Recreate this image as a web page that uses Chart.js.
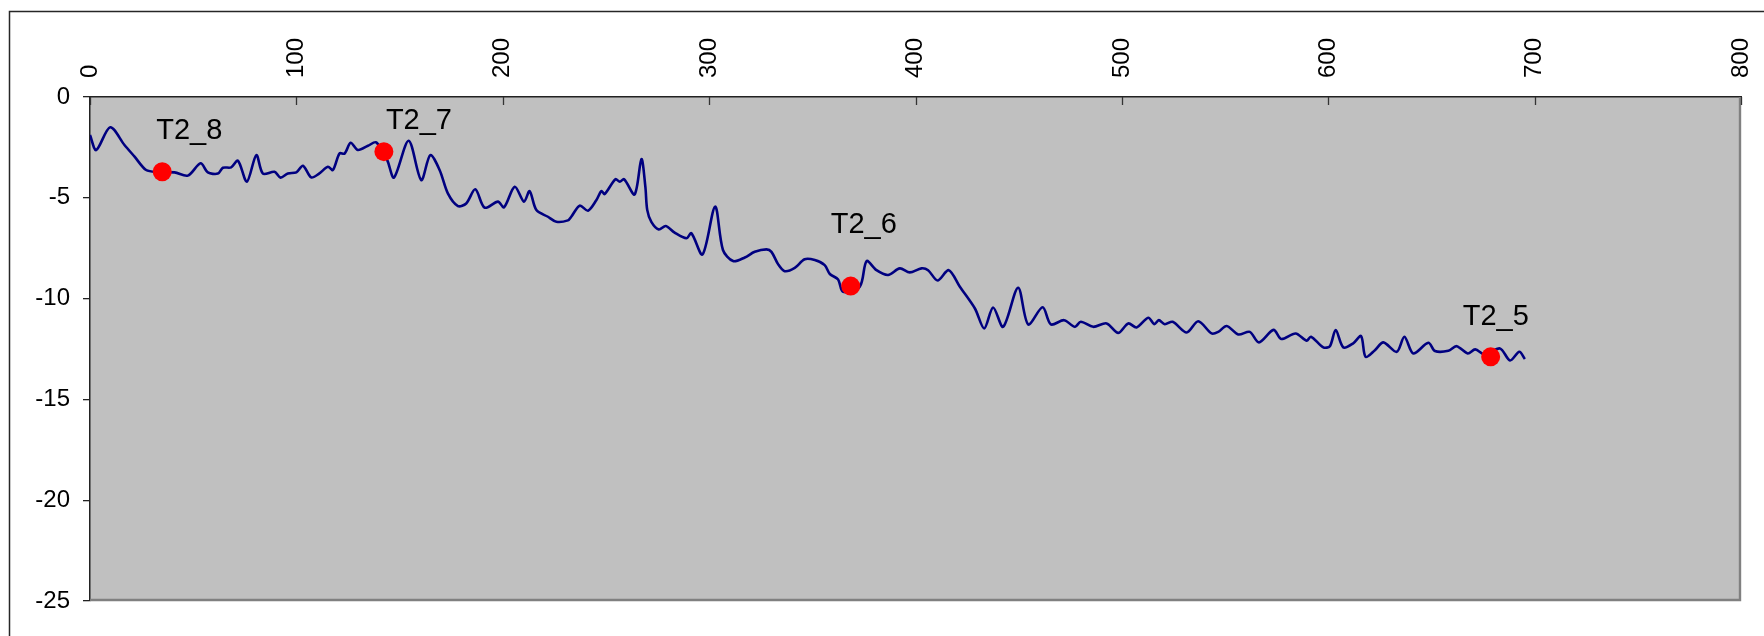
<!DOCTYPE html>
<html>
<head>
<meta charset="utf-8">
<script src="https://cdn.jsdelivr.net/npm/chart.js@4.4.0/dist/chart.umd.min.js"></script>
<style>
html,body{margin:0;padding:0;background:#ffffff;}
#wrap{width:1764px;height:636px;position:relative;overflow:hidden;}
</style>
</head>
<body>
<div id="wrap"><canvas id="c" width="1764" height="636"></canvas></div>
<script>
// ---- data ----
const profileX = [0,3,9.8,16.7,21.6,27.2,33,41,47.4,53.6,57.1,62,64.4,68.4,71.7,76,80.6,83.8,89.4,92.3,95.9,100,103.2,107.2,111,115.3,117.7,120.9,123.4,126.3,129.8,134.7,138.7,144,147.3,154.4,160.5,164.9,169.4,173.4,178.3,182.3,186.7,191.2,197.7,200.6,205.8,210.3,213,216.3,221.9,226,231.6,233.2,237.3,241.3,245.4,247.8,249.4,254.6,256.7,258.8,263.9,267.2,269.1,270,272,275.6,279,283.3,289,291.4,296.8,302.9,306.7,311.6,317.3,322.1,327.8,330.2,333.4,336.6,341.5,346.3,351.2,356,358.5,362.5,364.9,373,376.3,381.1,386.7,392.4,397.2,402.9,406.1,410.7,416.1,421.5,428.8,433.3,437.6,442.5,449.7,454.6,461.6,465.6,472,477.2,480.1,486.1,492.6,498.2,503.1,507.1,512.8,515.7,517.9,520.8,524.6,531.4,537,543.5,546.7,550.8,556.4,562,566.4,573.5,577.2,584.2,589.5,591.6,597.6,600.8,603.6,607.3,612.1,615.9,618.1,622.6,626.7,633.2,636.9,641.2,648.5,651.7,658.2,662.2,667.6,671.2,676,683.2,688.1,692.6,695.3];
const profileY = [-1.89,-2.63,-1.50,-2.38,-2.96,-3.62,-3.72,-3.74,-3.90,-3.29,-3.74,-3.80,-3.51,-3.49,-3.16,-4.20,-2.88,-3.80,-3.71,-4.00,-3.79,-3.74,-3.41,-3.99,-3.80,-3.46,-3.62,-2.80,-2.80,-2.27,-2.63,-2.42,-2.25,-3.13,-4.00,-2.17,-4.12,-2.88,-3.62,-4.78,-5.41,-5.28,-4.58,-5.49,-5.19,-5.47,-4.45,-5.19,-4.67,-5.61,-5.94,-6.19,-6.12,-5.94,-5.39,-5.64,-5.11,-4.67,-4.81,-4.08,-4.20,-4.08,-4.83,-3.08,-4.45,-5.60,-6.19,-6.57,-6.40,-6.73,-7.01,-6.76,-7.81,-5.44,-7.59,-8.14,-7.96,-7.68,-7.56,-7.68,-8.29,-8.64,-8.48,-8.05,-8.09,-8.34,-8.78,-9.05,-9.66,-9.41,-8.14,-8.59,-8.83,-8.50,-8.70,-8.50,-8.59,-9.10,-8.59,-9.41,-10.49,-11.48,-10.44,-11.40,-9.46,-11.28,-10.43,-11.28,-11.07,-11.40,-11.15,-11.40,-11.23,-11.70,-11.23,-11.43,-10.95,-11.27,-11.07,-11.27,-11.15,-11.68,-11.12,-11.73,-11.65,-11.36,-11.78,-11.65,-12.17,-11.55,-12.00,-11.73,-12.09,-11.89,-12.42,-12.36,-11.56,-12.42,-12.22,-11.86,-12.89,-12.56,-12.17,-12.64,-11.89,-12.72,-12.19,-12.60,-12.59,-12.36,-12.72,-12.52,-12.78,-12.47,-13.07,-12.64,-13.00];

const sampleNames = ['T2_8','T2_7','T2_6','T2_5'];
const sampleX = [35, 142.4, 368.6, 678.7];
const sampleY = [-3.71, -2.71, -9.38, -12.89];

const xTickValues = [0,100,200,300,400,500,600,700,800];
const yTickValues = [0,-5,-10,-15,-20,-25];

// ---- styling helpers (not data) ----
const FONT = "'Liberation Sans', Arial, Helvetica, sans-serif";
const TICK_SIZE = 24;
const labelShift = [[-6,-33],[2,-23],[-20,-53],[-28,-32]]; // label nudges in px relative to marker

const frame = {
  id: 'frame',
  beforeDraw(chart) {
    const ctx = chart.ctx, a = chart.chartArea;
    ctx.save();
    ctx.fillStyle = '#ffffff';
    ctx.fillRect(0, 0, chart.width, chart.height);
    // outer chart border (cropped on right & bottom)
    ctx.strokeStyle = '#262626';
    ctx.lineWidth = 1.5;
    ctx.beginPath();
    ctx.moveTo(9.5, chart.height + 10);
    ctx.lineTo(9.5, 11.5);
    ctx.lineTo(chart.width + 10, 11.5);
    ctx.stroke();
    // plot area
    ctx.fillStyle = '#c0c0c0';
    ctx.fillRect(a.left, a.top, a.right - a.left, a.bottom - a.top);
    ctx.restore();
  },
  afterDatasetsDraw(chart) {
    const ctx = chart.ctx, a = chart.chartArea;
    ctx.save();
    // right & bottom plot border
    ctx.strokeStyle = '#808080';
    ctx.lineWidth = 2.4;
    ctx.beginPath();
    ctx.moveTo(a.left, a.bottom - 1);
    ctx.lineTo(a.right - 1, a.bottom - 1);
    ctx.lineTo(a.right - 1, a.top);
    ctx.stroke();
    // inward x ticks
    const xs = chart.scales.x;
    ctx.strokeStyle = '#333333';
    ctx.lineWidth = 1.3;
    xTickValues.forEach(v => {
      const px = Math.round(xs.getPixelForValue(v)) + 0.5;
      ctx.beginPath();
      ctx.moveTo(px, a.top);
      ctx.lineTo(px, a.top + 8);
      ctx.stroke();
    });
    // sample labels
    const meta = chart.getDatasetMeta(0);
    ctx.fillStyle = '#000000';
    ctx.font = '29px ' + FONT;
    ctx.textAlign = 'left';
    ctx.textBaseline = 'alphabetic';
    meta.data.forEach((el, i) => {
      const s = labelShift[i] || [0, -25];
      ctx.fillText(sampleNames[i], el.x + s[0], el.y + s[1]);
    });
    ctx.restore();
  }
};

Chart.defaults.font.family = FONT;
Chart.defaults.color = '#000000';

new Chart(document.getElementById('c'), {
  type: 'scatter',
  data: {
    datasets: [
      {
        label: 'samples',
        data: sampleX.map((x, i) => ({x: x, y: sampleY[i]})),
        showLine: false,
        pointRadius: 9.5,
        pointHoverRadius: 9.5,
        pointBackgroundColor: '#ff0000',
        pointBorderColor: '#ff0000',
        pointBorderWidth: 0
      },
      {
        label: 'profile',
        data: profileX.map((x, i) => ({x: x, y: profileY[i]})),
        showLine: true,
        borderColor: '#000080',
        borderWidth: 2.6,
        pointRadius: 0,
        tension: 0.3,
        fill: false
      }
    ]
  },
  options: {
    responsive: false,
    devicePixelRatio: 1,
    animation: false,
    events: [],
    layout: { padding: { left: 0, top: 0, right: 23, bottom: 35 } },
    plugins: { legend: { display: false }, tooltip: { enabled: false } },
    scales: {
      x: {
        type: 'linear',
        position: 'top',
        min: 0, max: 800,
        afterFit(s) { s.height = 97; },
        afterBuildTicks(s) { s.ticks = xTickValues.map(v => ({value: v})); },
        ticks: {
          minRotation: 90, maxRotation: 90,
          padding: 19,
          labelOffset: TICK_SIZE * 1.2,
          font: { size: TICK_SIZE },
          color: '#000000',
          callback: v => String(v)
        },
        grid: { display: true, drawOnChartArea: false, drawTicks: false },
        border: { display: true, color: '#222222', width: 1.5 }
      },
      y: {
        type: 'linear',
        position: 'left',
        min: -25, max: 0,
        afterFit(s) { s.width = 90; },
        afterBuildTicks(s) { s.ticks = yTickValues.map(v => ({value: v})); },
        ticks: {
          padding: 13,
          font: { size: TICK_SIZE },
          color: '#000000',
          callback: v => String(v)
        },
        grid: { display: true, drawOnChartArea: false, drawTicks: true, tickLength: 7, color: '#222222', lineWidth: 1.3 },
        border: { display: true, color: '#222222', width: 1.5 }
      }
    }
  },
  plugins: [frame]
});
</script>
</body>
</html>
